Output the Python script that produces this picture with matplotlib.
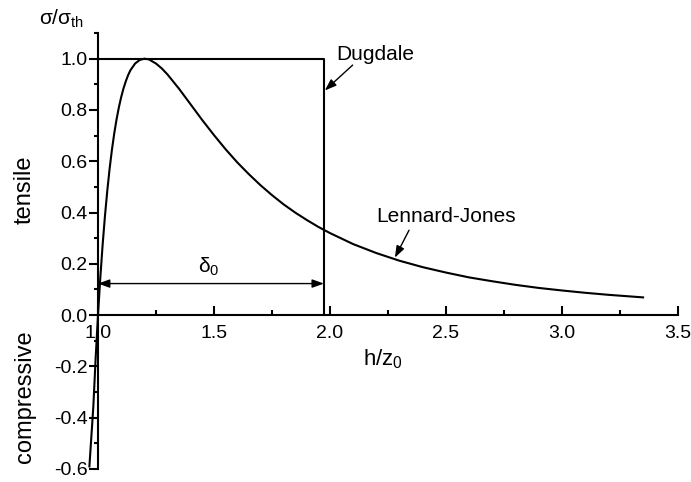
import numpy as np
import matplotlib
matplotlib.use('Agg')
import matplotlib.pyplot as plt
from matplotlib.ticker import MultipleLocator

plt.rcParams['font.family'] = ['Liberation Sans', 'DejaVu Sans']
plt.rcParams['mathtext.fontset'] = 'custom'
plt.rcParams['mathtext.rm'] = 'Liberation Sans'
plt.rcParams['mathtext.it'] = 'Liberation Sans'

# Lennard-Jones curve
h = [0.963, 0.98, 0.99, 1.00, 1.01, 1.02, 1.03, 1.04, 1.05, 1.06, 1.07, 1.08,
     1.09, 1.10, 1.11, 1.12, 1.13, 1.14, 1.16, 1.18, 1.20, 1.22, 1.25, 1.275,
     1.30, 1.35, 1.40, 1.45, 1.50, 1.55, 1.60, 1.65, 1.70, 1.75, 1.80, 1.85,
     1.90, 1.95, 2.00, 2.10, 2.20, 2.30, 2.40, 2.50, 2.60, 2.70, 2.80, 2.90,
     3.00, 3.10, 3.20, 3.35]
sigma = [-0.59, -0.356, -0.166, 0.0, 0.146, 0.274, 0.386, 0.484, 0.570, 0.644,
         0.708, 0.763, 0.810, 0.850, 0.884, 0.912, 0.936, 0.955, 0.981, 0.995,
         1.000, 0.997, 0.981, 0.962, 0.938, 0.882, 0.821, 0.760, 0.702, 0.647,
         0.596, 0.550, 0.507, 0.468, 0.432, 0.400, 0.371, 0.344, 0.320, 0.277,
         0.242, 0.212, 0.187, 0.166, 0.147, 0.132, 0.118, 0.106, 0.0961, 0.0871,
         0.0792, 0.0691]

# Dugdale step
dug_x = [1.0, 1.974, 1.974]
dug_y = [1.0, 1.0, 0.0]
delta0 = 0.974

fig = plt.figure(figsize=(6.91, 4.82), dpi=100)
ax = fig.add_axes([0.1418, 0.027, 0.8392, 0.9045])

ax.plot(h, sigma, color='black', lw=1.5, clip_on=False)
ax.plot(dug_x, dug_y, color='black', lw=1.5, clip_on=False)

ax.set_xlim(1.0, 3.5)
ax.set_ylim(-0.6, 1.1)

ax.spines['top'].set_visible(False)
ax.spines['right'].set_visible(False)
ax.spines['bottom'].set_position(('data', 0))
ax.spines['bottom'].set_linewidth(1.5)
ax.spines['left'].set_linewidth(1.5)

ax.xaxis.set_minor_locator(MultipleLocator(0.25))
ax.yaxis.set_minor_locator(MultipleLocator(0.1))
ax.set_xticks([1.0, 1.5, 2.0, 2.5, 3.0, 3.5])
ax.set_yticks([-0.6, -0.4, -0.2, 0.0, 0.2, 0.4, 0.6, 0.8, 1.0])
ax.set_yticklabels(['-0.6', '-0.4', '-0.2', '0.0', '0.2', '0.4', '0.6', '0.8', '1.0'])

ax.tick_params(axis='x', which='major', direction='in', length=6.5, width=1.5,
               labelsize=14, pad=7)
ax.tick_params(axis='x', which='minor', direction='in', length=3.5, width=1.5)
ax.tick_params(axis='y', which='major', direction='out', length=6.5, width=1.5,
               labelsize=14, pad=1)
ax.tick_params(axis='y', which='minor', direction='out', length=3, width=1.5)

arrow = dict(arrowstyle='-|>,head_length=0.5,head_width=0.18', color='black',
             lw=1, mutation_scale=14, shrinkA=0, shrinkB=0)
both = dict(arrowstyle='<|-|>,head_length=0.5,head_width=0.18', color='black',
            lw=1, mutation_scale=14, shrinkA=0, shrinkB=0)

# delta_0 double arrow
ax.annotate('', xy=(1.0, 0.123), xytext=(1.0 + delta0, 0.123), arrowprops=both)
ax.text(1.432, 0.166, r'$\mathregular{\delta_0}$', fontsize=15, ha='left', va='baseline')

# labels with arrows
ax.text(2.029, 0.995, 'Dugdale', fontsize=15, ha='left', va='baseline')
ax.annotate('', xy=(1.978, 0.876), xytext=(2.098, 0.975), arrowprops=arrow,
            annotation_clip=False)
ax.text(2.201, 0.363, 'Lennard-Jones', fontsize=15, ha='left', va='baseline')
ax.annotate('', xy=(2.280, 0.224), xytext=(2.341, 0.331), arrowprops=arrow,
            annotation_clip=False)

ax.text(2.143, -0.197, r'$\mathregular{h/z_0}$', fontsize=16, ha='left', va='baseline')
fig.text(0.0564, 0.948, r'$\mathregular{\sigma/\sigma_{th}}$', fontsize=15,
         ha='left', va='baseline')
fig.text(0.036, 0.606, 'tensile', fontsize=17, rotation=90, ha='center', va='center')
fig.text(0.036, 0.178, 'compressive', fontsize=17, rotation=90, ha='center', va='center')

fig.savefig('out.png', dpi=100)
